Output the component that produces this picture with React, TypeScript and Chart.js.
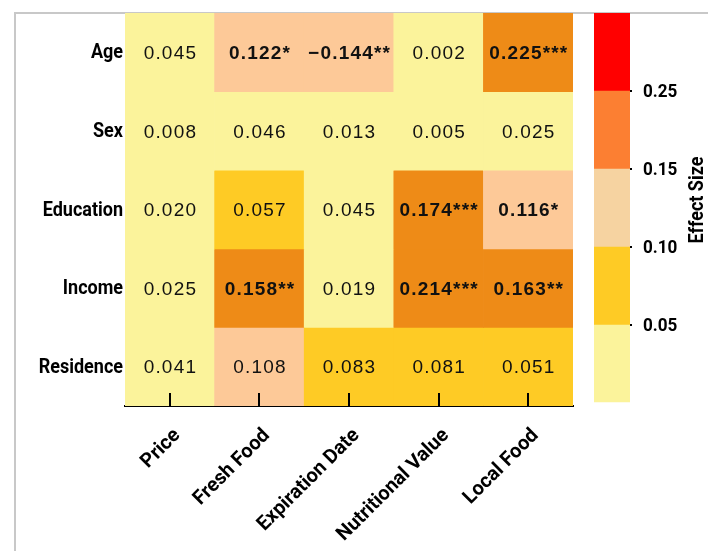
import React, { useEffect, useRef } from "react";
import { Chart, registerables } from "chart.js";
Chart.register(...registerables);

const rowLabels = ["Age", "Sex", "Education", "Income", "Residence"];
const colLabels = ["Price", "Fresh Food", "Expiration Date", "Nutritional Value", "Local Food"];

const ageValues = [0.045, 0.122, -0.144, 0.002, 0.225];
const ageStars = ["", "*", "**", "", "***"];
const sexValues = [0.008, 0.046, 0.013, 0.005, 0.025];
const sexStars = ["", "", "", "", ""];
const educationValues = [0.02, 0.057, 0.045, 0.174, 0.116];
const educationStars = ["", "", "", "***", "*"];
const incomeValues = [0.025, 0.158, 0.019, 0.214, 0.163];
const incomeStars = ["", "**", "", "***", "**"];
const residenceValues = [0.041, 0.108, 0.083, 0.081, 0.051];
const residenceStars = ["", "", "", "", ""];

const allValues = [ageValues, sexValues, educationValues, incomeValues, residenceValues];
const allStars = [ageStars, sexStars, educationStars, incomeStars, residenceStars];

const binEdges = [0.05, 0.1, 0.15, 0.25];
const binTickLabels = ["0.05", "0.10", "0.15", "0.25"];
const cellColors = ["#FBF39B", "#FECB25", "#FDC998", "#EE8B17", "#FF0000"];
const barColors = ["#FBF39B", "#FECB25", "#F6D3A1", "#FC7F32", "#FF0000"];
const colorbarTitle = "Effect Size";

const labelFont = "Roboto, 'Liberation Sans', sans-serif";
const cellFont = "'Liberation Sans', Arial, sans-serif";

function binOf(v: number) {
  const a = Math.abs(v);
  let i = 0;
  while (i < binEdges.length && a >= binEdges[i]) i++;
  return i;
}

function fmt(v: number, s: string) {
  const t = Math.abs(v).toFixed(3);
  return (v < 0 ? "\u2212" : "") + t + s;
}

function squeezedText(ctx: any, text: string, x: number, y: number, rot: number, dy: number, sq: number) {
  ctx.save();
  ctx.translate(x, y);
  if (rot) ctx.rotate(rot);
  ctx.scale(sq, 1);
  ctx.fillText(text, 0, dy);
  ctx.restore();
}

export default function App() {
  const mainRef = useRef<HTMLCanvasElement | null>(null);
  const barRef = useRef<HTMLCanvasElement | null>(null);

  useEffect(() => {
    const cellTextPlugin = {
      id: "cellText",
      afterDatasetsDraw(chart: any) {
        const { ctx } = chart;
        const xs = chart.scales.x;
        const ys = chart.scales.y;
        ctx.save();
        ctx.fillStyle = "#111";
        ctx.textAlign = "center";
        ctx.textBaseline = "middle";
        try {
          ctx.letterSpacing = "1.2px";
        } catch (e) {}
        allValues.forEach((row, r) => {
          row.forEach((v, c) => {
            const s = allStars[r][c];
            ctx.font = (s ? "bold " : "") + "19px " + cellFont;
            ctx.fillText(fmt(v, s), xs.getPixelForValue(c) + 0.6, ys.getPixelForValue(r) + 1.5);
          });
        });
        ctx.restore();
      },
      afterDraw(chart: any) {
        const { ctx, chartArea } = chart;
        const xs = chart.scales.x;
        const ys = chart.scales.y;
        ctx.save();
        ctx.strokeStyle = "#000";
        ctx.lineWidth = 2;
        colLabels.forEach((_, i) => {
          const x = Math.round(xs.getPixelForValue(i));
          ctx.beginPath();
          ctx.moveTo(x, chartArea.bottom);
          ctx.lineTo(x, chartArea.bottom - 13);
          ctx.stroke();
        });
        ctx.fillStyle = "#000";
        ctx.font = "bold 20px " + labelFont;
        ctx.textAlign = "right";
        ctx.textBaseline = "middle";
        rowLabels.forEach((lab, r) => {
          squeezedText(ctx, lab, chartArea.left - 2, ys.getPixelForValue(r) + 1, 0, 0, 0.9);
        });
        ctx.font = "bold 20px " + labelFont;
        colLabels.forEach((lab, i) => {
          const x = xs.getPixelForValue(i);
          squeezedText(ctx, lab, x - 1, chartArea.bottom + 18, -Math.PI / 4, 12, 0.99);
        });
        ctx.restore();
      },
    };

    const main = new Chart(mainRef.current as HTMLCanvasElement, {
      type: "bar",
      data: {
        labels: colLabels,
        datasets: rowLabels.map((name, r) => ({
          label: name,
          data: colLabels.map(() => [r - 0.5, r + 0.5]),
          backgroundColor: allValues[r].map((v) => cellColors[binOf(v)]),
          grouped: false,
          barPercentage: 1,
          categoryPercentage: 1,
          borderWidth: 0,
        })) as any,
      },
      options: {
        responsive: false,
        animation: false,
        layout: { padding: { top: 13, left: 0, right: 7, bottom: 0 } },
        plugins: { legend: { display: false }, tooltip: { enabled: false } },
        scales: {
          x: {
            type: "category",
            offset: true,
            z: 1,
            grid: { display: false, drawTicks: false },
            border: { display: true, color: "#000", width: 2 },
            ticks: { display: false },
            afterFit: (s: any) => {
              s.height = 145;
            },
          },
          y: {
            type: "linear",
            min: -0.5,
            max: 4.5,
            reverse: true,
            grid: { display: false, drawTicks: false },
            border: { display: false },
            ticks: { display: false },
            afterFit: (s: any) => {
              s.width = 125;
            },
          },
        },
      } as any,
      plugins: [cellTextPlugin],
    });

    const cbPlugin = {
      id: "cbLabels",
      afterDraw(chart: any) {
        const { ctx, chartArea } = chart;
        const ys = chart.scales.y;
        ctx.save();
        ctx.fillStyle = "#000";
        ctx.font = "bold 19px " + labelFont;
        ctx.textAlign = "left";
        ctx.textBaseline = "middle";
        binTickLabels.forEach((lab, i) => {
          squeezedText(ctx, lab, chartArea.right + 13, ys.getPixelForValue(i + 1) + 1.5, 0, 0, 0.9);
        });
        ctx.font = "bold 20px " + labelFont;
        ctx.textAlign = "center";
        squeezedText(ctx, colorbarTitle, 118, 200, -Math.PI / 2, 0, 0.9);
        ctx.restore();
      },
    };

    const bar = new Chart(barRef.current as HTMLCanvasElement, {
      type: "bar",
      data: {
        labels: [""],
        datasets: barColors.map((col, i) => ({
          data: [[i, i + 1]],
          backgroundColor: col,
          grouped: false,
          barPercentage: 1,
          categoryPercentage: 1,
          borderWidth: 0,
        })) as any,
      },
      options: {
        responsive: false,
        animation: false,
        layout: { padding: { top: 13, left: 14, right: 0, bottom: 148 } },
        plugins: { legend: { display: false }, tooltip: { enabled: false } },
        scales: {
          x: { display: false, offset: true },
          y: {
            position: "right",
            min: 0,
            max: 5,
            z: 1,
            grid: {
              drawOnChartArea: true,
              drawTicks: true,
              tickLength: 2,
              lineWidth: 2,
              color: (c: any) => (c.tick && c.tick.value >= 1 && c.tick.value <= 4 ? "#000" : "rgba(0,0,0,0)"),
            },
            border: { display: false },
            ticks: { stepSize: 1, display: false },
            afterFit: (s: any) => {
              s.width = 78;
            },
          },
        },
      } as any,
      plugins: [cbPlugin],
    });

    return () => {
      main.destroy();
      bar.destroy();
    };
  }, []);

  return (
    <div style={{ position: "absolute", left: 0, top: 0, width: 708, height: 551, background: "#fff", overflow: "hidden" }}>
      <div
        style={{
          position: "absolute",
          left: 14,
          top: 12,
          width: 694,
          height: 539,
          borderTop: "2px solid #C8C8C8",
          borderLeft: "2px solid #C8C8C8",
          boxSizing: "border-box",
        }}
      />
      <canvas ref={mainRef} width={580} height={551} style={{ position: "absolute", left: 0, top: 0, width: 580, height: 551 }} />
      <canvas ref={barRef} width={128} height={551} style={{ position: "absolute", left: 580, top: 0, width: 128, height: 551 }} />
    </div>
  );
}
